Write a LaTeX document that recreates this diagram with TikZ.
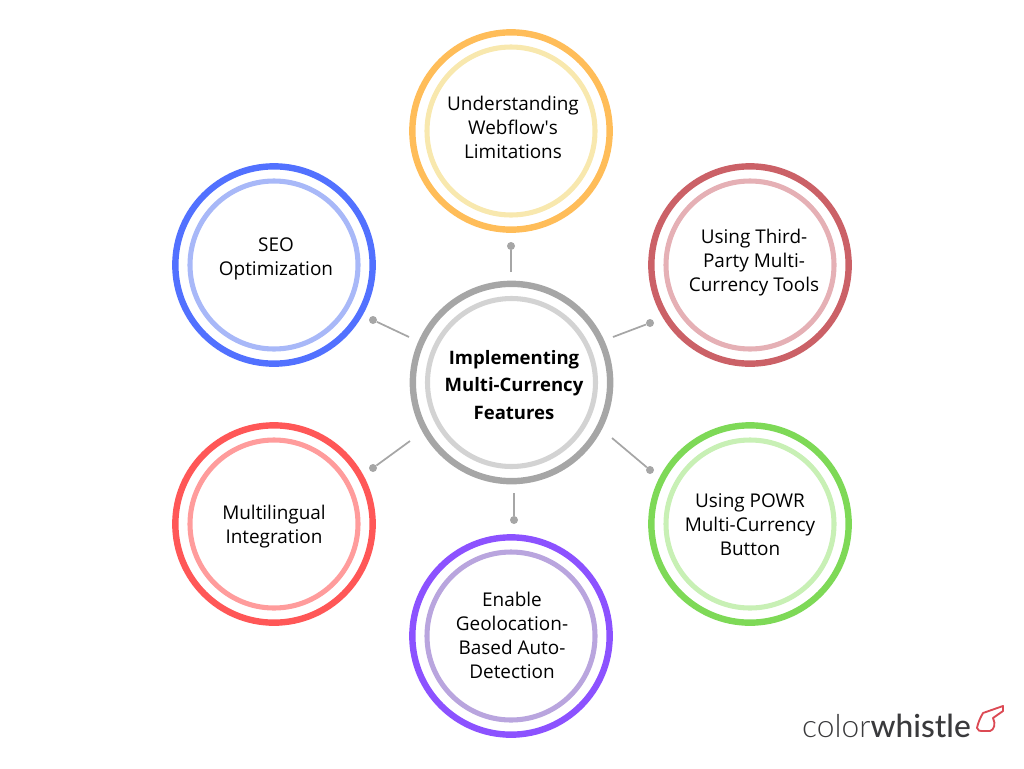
\documentclass[tikz,border=0pt]{standalone}
\usepackage{fontspec}
\setmainfont{Open Sans}
\newfontfamily\logolight{Lato Light}
\newfontfamily\logomedium{Lato Medium}
\usetikzlibrary{positioning}
\definecolor{cgrey}{HTML}{A6A6A6}
\definecolor{cgreyin}{HTML}{D3D3D3}
\definecolor{corange}{HTML}{FFBD59}
\definecolor{corangein}{HTML}{F8E8AE}
\definecolor{cbrick}{HTML}{CB6167}
\definecolor{cbrickin}{HTML}{E5B0B5}
\definecolor{cgreen}{HTML}{7ED957}
\definecolor{cgreenin}{HTML}{C8F0B5}
\definecolor{cpurple}{HTML}{8C52FF}
\definecolor{cpurplein}{HTML}{B9A5DE}
\definecolor{cred}{HTML}{FF5757}
\definecolor{credin}{HTML}{FF9C9C}
\definecolor{cblue}{HTML}{5271FF}
\definecolor{cbluein}{HTML}{A8B8F8}
\definecolor{cwhistle}{HTML}{DC4A54}
\definecolor{clogo}{HTML}{3A3A3C}
\tikzset{
  ringout/.style={circle,draw=#1,line width=4.8pt,minimum size=148pt,inner sep=0pt},
  ringin/.style={circle,draw=#1,line width=3.8pt,minimum size=126pt,inner sep=0pt},
  caption/.style={align=center,inner sep=0pt,text=black,font=\fontsize{14.2pt}{18pt}\selectfont},
  hubcaption/.style={align=center,inner sep=0pt,text=black,font=\fontsize{13.9pt}{20.6pt}\selectfont\bfseries},
  spoke/.style={draw=cgrey,line width=1.3pt},
  knob/.style={circle,fill=cgrey,minimum size=6pt,inner sep=0pt}
}
\begin{document}
\begin{tikzpicture}[x=0.75pt,y=-0.75pt]
\useasboundingbox (0,0) rectangle (1024,768);
% centre
\node [ringout=cgrey] (hubout) at (511.5,382.5) {};
\node [ringin=cgreyin] (hubin) at (511.5,382.5) {};
\node [hubcaption] (hub) at (514,385) {Implementing\\Multi-Currency\\Features};
% outer circles
\node [ringout=corange] (limitsout) at (511,131) {};
\node [ringin=corangein] (limitsin) at (511,131) {};
\node [caption] (limits) at (513,127) {Understanding\\Webflow\textquotesingle s\\Limitations};
\node [ringout=cbrick] (toolsout) at (750,265) {};
\node [ringin=cbrickin] (toolsin) at (750,265) {};
\node [caption] (tools) at (754,263) {Using Third-\\Party Multi-\\Currency Tools};
\node [ringout=cgreen] (powrout) at (750,524) {};
\node [ringin=cgreenin] (powrin) at (750,524) {};
\node [caption] (powr) at (750,525) {Using POWR\\Multi-Currency\\Button};
\node [ringout=cpurple] (geoout) at (511,636) {};
\node [ringin=cpurplein] (geoin) at (511,636) {};
\node [caption] (geo) at (512,635) {Enable\\Geolocation-\\Based Auto-\\Detection};
\node [ringout=cred] (langout) at (274,524) {};
\node [ringin=credin] (langin) at (274,524) {};
\node [caption] (lang) at (274,527) {Multilingual\\Integration};
\node [ringout=cblue] (seoout) at (274,265) {};
\node [ringin=cbluein] (seoin) at (274,265) {};
\node [caption] (seo) at (276,259) {SEO\\Optimization};
% spokes
\node [knob] (k1) at (511,246) {};
\node [knob] (k2) at (650,323) {};
\node [knob] (k3) at (650,470) {};
\node [knob] (k4) at (514,520) {};
\node [knob] (k5) at (373,468) {};
\node [knob] (k6) at (373,320) {};
\coordinate (s1) at (511,272);
\coordinate (s2) at (613,337);
\coordinate (s3) at (612,438);
\coordinate (s4) at (514,493);
\coordinate (s5) at (410,441);
\coordinate (s6) at (409,337);
\foreach \i in {1,...,6}
  \draw [spoke] (s\i) -- (k\i);
% logo
\node [anchor=base east,inner sep=0pt,text=clogo,font=\fontsize{23.8pt}{24pt}\selectfont] (logo) at (971,737)
  {{\logolight color}{\logomedium whistle}};
\draw [cwhistle,line width=1.4pt,line join=round]
  (1003,706) -- (983,713) .. controls (980,718) and (978,723) .. (977,728)
  .. controls (978,731) and (980,731) .. (982,731) -- (990,731)
  .. controls (994,730) and (996,724) .. (993,718)
  -- (1003,711) -- cycle;
\end{tikzpicture}
\end{document}
